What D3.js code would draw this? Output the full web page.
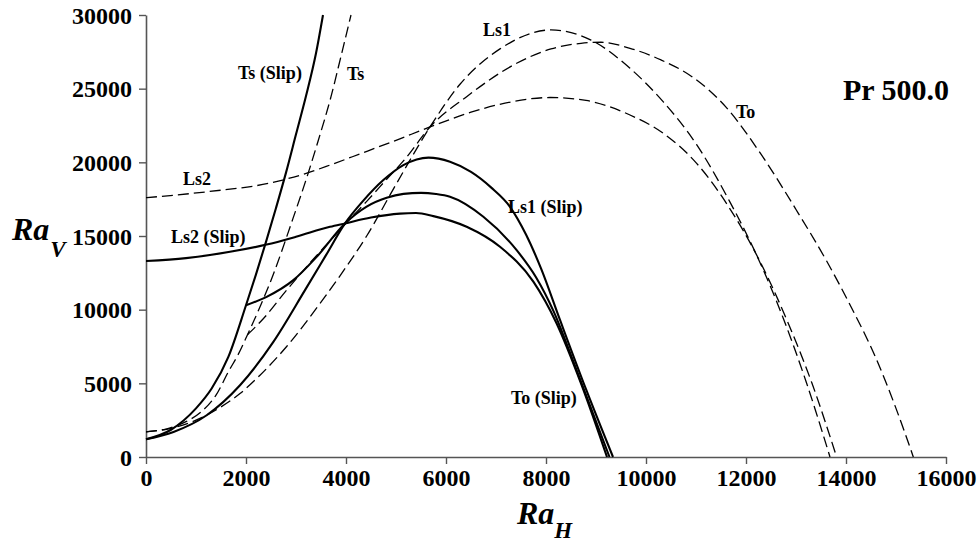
<!DOCTYPE html>
<html>
<head>
<meta charset="utf-8">
<script src="https://cdn.jsdelivr.net/npm/d3@7"></script>
<style>
  html, body { margin: 0; padding: 0; background: #fff; }
  svg { display: block; }
  text { font-family: "Liberation Serif", "Times New Roman", serif; font-weight: bold; fill: #000; }
</style>
</head>
<body>
<svg id="chart" width="979" height="543"></svg>
<script>
// ---- tick labels ----
const xTicks = [0, 2000, 4000, 6000, 8000, 10000, 12000, 14000, 16000];
const yTicks = [0, 5000, 10000, 15000, 20000, 25000, 30000];

// ---- slip (solid) curves: [Ra_H, Ra_V] ----
const tsSlip = [[0,1200],[500,1850],[1000,3300],[1313,4646],[1647,6793],[2000,10300],[2200,12400],[2400,14600],[2600,16900],[2800,19300],[3000,21900],[3200,24500],[3400,27400],[3540,30000]];
const ls1Slip = [[0,1200],[550,1700],[1213,2833],[1880,4871],[2547,7812],[3180,11324],[3600,13700],[3980,15855],[4347,17400],[4747,18796],[5147,19815],[5413,20200],[5650,20320],[6080,20040],[6500,19350],[6900,18300],[7280,16983],[7600,15100],[7900,12800],[8280,9300],[8800,4600],[9340,0]];
const toSlip = [[2000,10300],[2413,10870],[2947,12003],[3413,13586],[3980,15855],[4413,17000],[4813,17600],[5150,17860],[5500,17930],[5800,17850],[6080,17662],[6747,16303],[7413,14040],[7800,12200],[8150,9900],[8600,6000],[9270,0]];
const ls2Slip = [[0,13300],[800,13500],[1680,13926],[2413,14420],[3000,14950],[3680,15624],[3980,15855],[4500,16250],[5080,16520],[5400,16560],[5747,16350],[6413,15624],[7080,14266],[7747,11900],[8213,9062],[8700,5000],[9220,0]];

// ---- no-slip (dashed) curves ----
const tsNoSlip = [[0,1708],[400,1900],[800,2400],[1100,3050],[1400,4200],[1650,5800],[1850,7000],[2030,8300],[2230,9800],[2547,12400],[2900,15800],[3247,19300],[3447,21500],[3700,24455],[3900,27200],[4100,30000]];
const toNoSlip = [[2030,8300],[2350,9400],[2813,11324],[3300,13250],[3700,14750],[3980,15800],[4400,17300],[4800,18800],[5200,20300],[5680,22400],[6413,24457],[7413,26725],[8100,27700],[8700,28080],[9100,28150],[9680,27740],[10300,26950],[10947,25750],[11600,23750],[12300,20550],[13000,16800],[13613,13300],[14100,10200],[14600,6700],[15000,3300],[15347,0]];
const ls1NoSlip = [[0,1708],[500,1950],[1000,2500],[1500,3400],[1880,4306],[2280,5550],[2813,7500],[3480,10420],[3880,12300],[4413,15000],[5000,18500],[5680,22400],[6280,25300],[7080,27700],[8100,28985],[8900,28300],[9680,26383],[10347,24100],[11013,21200],[11680,17300],[12213,13700],[12747,9400],[13213,5000],[13680,0]];
const ls2NoSlip = [[0,17600],[1213,18000],[2447,18572],[3247,19300],[3680,19815],[4300,20600],[5013,21513],[5680,22400],[6500,23400],[7300,24100],[8080,24400],[8800,24200],[9680,23212],[10347,21970],[11013,19930],[11650,17000],[12260,13400],[12830,9200],[13320,5000],[13813,0]];

// ---- curve labels ----
const labelTexts = ["Ts (Slip)", "Ts", "Ls1", "To", "Ls2", "Ls2 (Slip)", "Ls1 (Slip)", "To (Slip)"];
const labelPos = [[238,79],[347,80],[483,36],[736,118],[183,185],[171,243],[508,213],[511,404]];

const svg = d3.select("#chart");
const x = d3.scaleLinear().domain([0, 16000]).range([146, 946]);
const y = d3.scaleLinear().domain([0, 30000]).range([457, 15]);

const line = d3.line().x(d => x(d[0])).y(d => y(d[1])).curve(d3.curveMonotoneX);

// axes
const axisColor = "#555";
const xAxis = svg.append("g").attr("transform", `translate(0,${y(0)})`)
  .call(d3.axisBottom(x).tickValues(xTicks).tickFormat(d3.format("d")).tickSize(7).tickPadding(5).tickSizeOuter(0));
const yAxis = svg.append("g").attr("transform", `translate(${x(0)},0)`)
  .call(d3.axisLeft(y).tickValues(yTicks).tickFormat(d3.format("d")).tickSize(7).tickPadding(7).tickSizeOuter(0));
[xAxis, yAxis].forEach(g => {
  g.select(".domain").attr("stroke", axisColor).attr("stroke-width", 1.6);
  g.selectAll(".tick line").attr("stroke", axisColor).attr("stroke-width", 1.4);
  g.selectAll(".tick text").attr("font-family", '"Liberation Serif", "Times New Roman", serif')
    .attr("font-weight", "bold").attr("font-size", 24).attr("fill", "#000");
});
yAxis.selectAll(".tick text").attr("dy", "0.34em");

// curves
const solid = [tsSlip, ls1Slip, toSlip, ls2Slip];
const dashed = [tsNoSlip, toNoSlip, ls1NoSlip, ls2NoSlip];
const plot = svg.append("g");
dashed.forEach(s => plot.append("path").datum(s).attr("d", line)
  .attr("fill", "none").attr("stroke", "#000").attr("stroke-width", 1.3).attr("stroke-dasharray", "11,5"));
solid.forEach(s => plot.append("path").datum(s).attr("d", line)
  .attr("fill", "none").attr("stroke", "#000").attr("stroke-width", 2.1));

// labels
labelTexts.forEach((t, i) => svg.append("text").attr("x", labelPos[i][0]).attr("y", labelPos[i][1])
  .attr("font-size", 18).text(t));

svg.append("text").attr("x", 843).attr("y", 100).attr("font-size", 30).text("Pr 500.0");

// axis titles
const yt = svg.append("text").attr("x", 12).attr("y", 240).attr("font-size", 32).attr("font-style", "italic");
yt.append("tspan").text("Ra");
yt.append("tspan").attr("font-size", 23).attr("dx", 1).attr("dy", 17).text("V");

const xt = svg.append("text").attr("x", 517).attr("y", 524).attr("font-size", 32).attr("font-style", "italic");
xt.append("tspan").text("Ra");
xt.append("tspan").attr("font-size", 23).attr("dx", 0).attr("dy", 14).text("H");
</script>
</body>
</html>
